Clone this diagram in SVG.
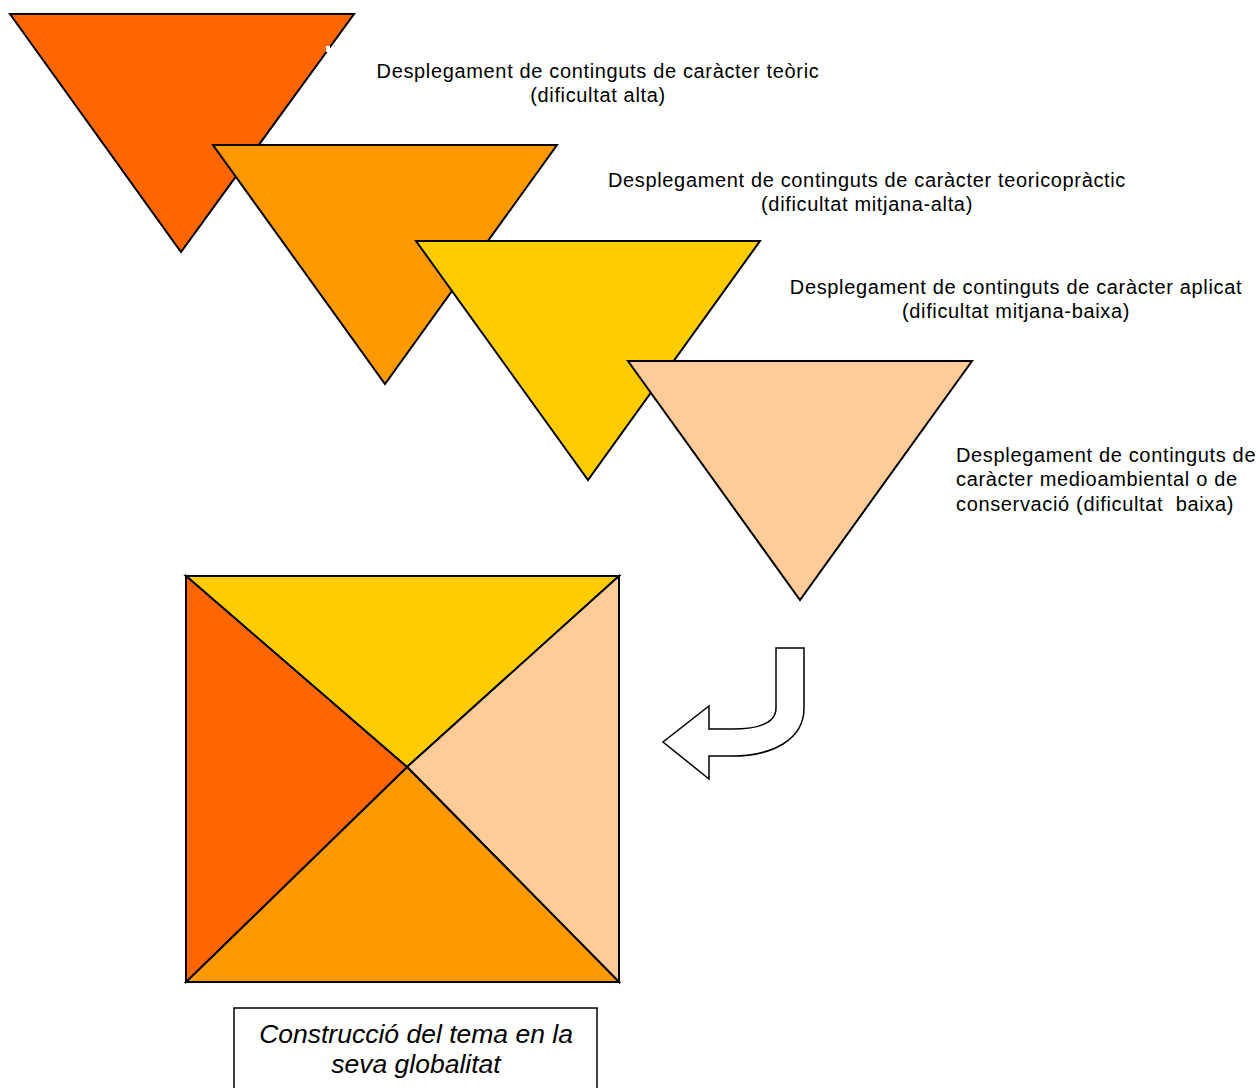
<svg xmlns="http://www.w3.org/2000/svg" width="1259" height="1088" viewBox="0 0 1259 1088">
<style>
.s{stroke:#000;stroke-width:2;stroke-linejoin:miter}
.t{font-family:"Liberation Sans",Arial,sans-serif;font-size:20px;letter-spacing:0.65px;fill:#000}
.c{text-anchor:middle}
.b{font-family:"Liberation Sans",Arial,sans-serif;font-size:26.5px;font-style:italic;fill:#000;text-anchor:middle}
</style>
<rect width="1259" height="1088" fill="#fff"/>
<g id="tri1"><polygon class="s" fill="#FF6600" points="10,14 354,14 181,252"/><rect x="326" y="46" width="4" height="6" fill="#fff"/></g>
<g id="tri2"><polygon class="s" fill="#FF9900" points="213,145 557,145 385,384"/></g>
<g id="tri3"><polygon class="s" fill="#FFCC00" points="416,241 760,241 588,480"/></g>
<g id="tri4"><polygon class="s" fill="#FFCC99" points="628,361 972,361 800,600"/></g>
<g id="label1"><text class="t c" x="598" y="78">Desplegament de continguts de caràcter teòric</text><text class="t c" x="598" y="102">(dificultat alta)</text></g>
<g id="label2"><text class="t c" x="867" y="187">Desplegament de continguts de caràcter teoricopràctic</text><text class="t c" x="867" y="211">(dificultat mitjana-alta)</text></g>
<g id="label3"><text class="t c" x="1016" y="294">Desplegament de continguts de caràcter aplicat</text><text class="t c" x="1016" y="318">(dificultat mitjana-baixa)</text></g>
<g id="label4"><text class="t" x="956" y="462">Desplegament de continguts de</text><text class="t" x="956" y="486">caràcter medioambiental o de</text><text class="t" x="956" y="511" xml:space="preserve">conservació (dificultat  baixa)</text></g>
<g id="square">
<polygon class="s" fill="#FFCC00" points="186,576 619,576 407,767"/>
<polygon class="s" fill="#FFCC99" points="619,576 619,982 407,767"/>
<polygon class="s" fill="#FF9900" points="619,982 186,982 407,767"/>
<polygon class="s" fill="#FF6600" points="186,982 186,576 407,767"/>
<rect x="186" y="576" width="433" height="406" fill="none" stroke="#000" stroke-width="2"/>
</g>
<g id="connectors">
<path fill="#fff" stroke="#000" stroke-width="1.5" stroke-linejoin="miter" d="M776 648 L804 648 L804 708 C804 740 772 756 732 756 L709 756 L709 779 L663 742 L709 706 L709 729 L732 729 C760 729 776 722 776 708 Z"/>
</g>
<g id="caption">
<rect x="234" y="1008" width="363" height="90" fill="#fff" stroke="#000" stroke-width="1.5"/>
<text class="b" x="416" y="1043">Construcció del tema en la</text>
<text class="b" x="416" y="1073">seva globalitat</text>
</g>
</svg>
